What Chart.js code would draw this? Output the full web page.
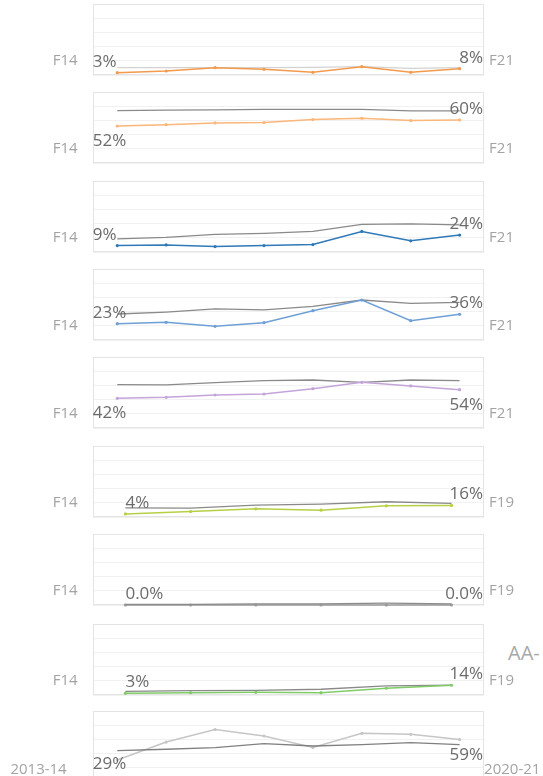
<!DOCTYPE html>
<html>
<head>
<meta charset="utf-8">
<script src="https://cdn.jsdelivr.net/npm/chart.js@4.4.1/dist/chart.umd.min.js"></script>
<style>
  html, body { margin: 0; padding: 0; background: #ffffff; width: 543px; height: 776px; overflow: hidden; position: relative; }
  canvas { position: absolute; left: 0; }
  #aa { position: absolute; left: 508px; top: 639px; font: 20px "Open Sans", sans-serif; color: #a8a8a8; white-space: nowrap; }
</style>
</head>
<body>
<div id="aa">AA-</div>
<script>
// ---- data ----
const yearsFull  = ['2013-14','2014-15','2015-16','2016-17','2017-18','2018-19','2019-20','2020-21'];
const yearsShort = ['2013-14','2014-15','2015-16','2016-17','2017-18','2018-19'];

const p1Series = [3.3, 5.6, 10.3, 8.0, 3.8, 11.7, 3.8, 8.9];
const p1Bench  = [10.3, 10.3, 10.3, 10.3, 10.8, 11.7, 9.4, 10.3];
const p2Series = [52.1, 54.0, 56.4, 56.9, 61.1, 63.0, 59.7, 60.7];
const p2Bench  = [73.9, 74.4, 74.9, 75.4, 75.4, 75.4, 73.5, 73.5];
const p3Series = [9.0, 10.0, 7.6, 9.0, 10.5, 29.0, 15.7, 23.8];
const p3Bench  = [18.6, 20.5, 24.8, 26.2, 29.0, 39.0, 39.5, 38.1];
const p4Series = [23.0, 24.9, 19.2, 24.4, 41.3, 56.3, 27.2, 36.2];
const p4Bench  = [36.6, 39.4, 43.7, 42.3, 47.4, 56.3, 51.6, 53.1];
const p5Series = [41.8, 43.2, 46.5, 47.9, 55.4, 64.3, 59.2, 54.0];
const p5Bench  = [61.0, 60.6, 63.8, 66.7, 67.6, 64.3, 67.6, 66.7];
const p6Series = [4.3, 7.7, 11.5, 9.6, 15.8, 16.3];
const p6Bench  = [12.9, 12.4, 16.7, 18.2, 21.5, 19.1];
const p7Series = [0, 0, 0, 0, 0, 0];
const p7Bench  = [1.0, 1.0, 1.5, 1.5, 2.5, 1.5];
const p8Series = [2.4, 3.3, 3.8, 3.3, 9.5, 13.7];
const p8Bench  = [5.2, 6.2, 6.6, 8.1, 12.8, 13.7];
const p9Series = [31.0, 56.3, 73.8, 64.8, 48.5, 68.6, 67.2, 59.7];
const p9Bench  = [44.2, 46.1, 48.5, 54.1, 50.7, 52.7, 55.5, 52.7];

const startLabels = ['3%','52%','9%','23%','42%','4%','0.0%','3%','29%'];
const endLabels   = ['8%','60%','24%','36%','54%','16%','0.0%','14%','59%'];
const leftLabels  = ['F14','F14','F14','F14','F14','F14','F14','F14','2013-14'];
const rightLabels = ['F21','F21','F21','F21','F21','F19','F19','F19','2020-21'];

const yTicks = [0, 20, 40, 60, 80, 100];

// ---- layout / style (not data) ----
const panels = [
  { cats: yearsFull,  s: p1Series, b: p1Bench, color: '#f39a4c', bench: '#d2d2d2', sDy: -6, eDy: -6 },
  { cats: yearsFull,  s: p2Series, b: p2Bench, color: '#fbb679', bench: '#8a8a8a', sDy: 20, eDy: -6 },
  { cats: yearsFull,  s: p3Series, b: p3Bench, color: '#2f79b9', bench: '#8a8a8a', sDy: -6, eDy: -6 },
  { cats: yearsFull,  s: p4Series, b: p4Bench, color: '#6e9fd6', bench: '#8a8a8a', sDy: -6, eDy: -6 },
  { cats: yearsFull,  s: p5Series, b: p5Bench, color: '#c4a4da', bench: '#8a8a8a', sDy: 20, eDy: 20 },
  { cats: yearsShort, s: p6Series, b: p6Bench, color: '#b6d046', bench: '#8a8a8a', sDy: -6, eDy: -6 },
  { cats: yearsShort, s: p7Series, b: p7Bench, color: '#9a9a9a', bench: '#8a8a8a', sDy: -6, eDy: -6 },
  { cats: yearsShort, s: p8Series, b: p8Bench, color: '#7fcc68', bench: '#8a8a8a', sDy: -6, eDy: -6 },
  { cats: yearsFull,  s: p9Series, b: p9Bench, color: '#c6c6c6', bench: '#808080', sDy: 9, eDy: 20 }
];
const panelTops = [4, 92.3, 180.7, 269, 356.7, 446, 534, 624, 710.7];
const panelH = 71, padV = 12, areaLeft = 92.8, areaRight = 484.1, W = 543;

const labelPlugin = {
  id: 'panelDecor',
  beforeDatasetsDraw(chart) {
    const a = chart.chartArea, ctx = chart.ctx;
    ctx.save();
    ctx.strokeStyle = '#e4e4e4';
    ctx.lineWidth = 1;
    ctx.strokeRect(Math.round(a.left) + 0.5, Math.round(a.top) + 0.5, Math.round(a.right - a.left) - 1, Math.round(a.bottom - a.top) - 1);
    ctx.restore();
  },
  afterDatasetsDraw(chart) {
    const i = chart.options.plugins.panelDecor.index;
    const p = panels[i];
    const a = chart.chartArea, ctx = chart.ctx;
    const meta = chart.getDatasetMeta(1);
    const first = meta.data[0], last = meta.data[meta.data.length - 1];
    const few = p.cats.length < 8;
    ctx.save();
    ctx.font = '17px "Open Sans", sans-serif';
    ctx.fillStyle = '#6b6b6b';
    ctx.textBaseline = 'alphabetic';
    ctx.textAlign = 'left';
    ctx.fillText(startLabels[i], few ? first.x : a.left, first.y + p.sDy);
    ctx.textAlign = 'right';
    ctx.fillText(endLabels[i], a.right - 1, last.y + p.eDy);
    ctx.font = '15px "Open Sans", sans-serif';
    ctx.fillStyle = '#a3a3a3';
    ctx.textAlign = 'left';
    const by = a.top + (i === 8 ? 62.6 : 60.5);
    ctx.fillText(leftLabels[i], i === 8 ? 10.4 : a.left - 40, by);
    ctx.fillText(rightLabels[i], i === 8 ? a.right : a.right + 5, by);
    ctx.restore();
  }
};

panels.forEach((p, i) => {
  const c = document.createElement('canvas');
  const h = Math.round(panelH + 2 * padV);
  c.width = W; c.height = h;
  c.style.width = W + 'px'; c.style.height = h + 'px';
  c.style.top = (panelTops[i] - padV) + 'px';
  document.body.appendChild(c);
  new Chart(c.getContext('2d'), {
    type: 'line',
    data: {
      labels: p.cats,
      datasets: [
        { data: p.b, borderColor: p.bench, borderWidth: 1.3, pointRadius: 0, tension: 0, clip: false, order: (i === 8 || i === 6) ? 0 : 1 },
        { data: p.s, borderColor: p.color, backgroundColor: p.color, borderWidth: 1.5, pointRadius: 1.6, pointBorderWidth: 0, pointHoverRadius: 0, tension: 0, clip: false, order: (i === 8 || i === 6) ? 1 : 0 }
      ]
    },
    options: {
      responsive: false,
      animation: false,
      devicePixelRatio: 1,
      events: [],
      layout: { padding: { left: areaLeft, right: W - areaRight, top: padV, bottom: h - padV - panelH } },
      plugins: { legend: { display: false }, tooltip: { enabled: false }, panelDecor: { index: i } },
      scales: {
        x: { type: 'category', offset: true, display: false },
        y: {
          min: 0, max: 100,
          afterBuildTicks: (s) => { s.ticks = yTicks.map(v => ({ value: v })); },
          ticks: { display: false },
          grid: { color: '#f1f1f1', drawTicks: false, lineWidth: 1 },
          border: { display: false }
        }
      }
    },
    plugins: [labelPlugin]
  });
});
</script>
</body>
</html>
